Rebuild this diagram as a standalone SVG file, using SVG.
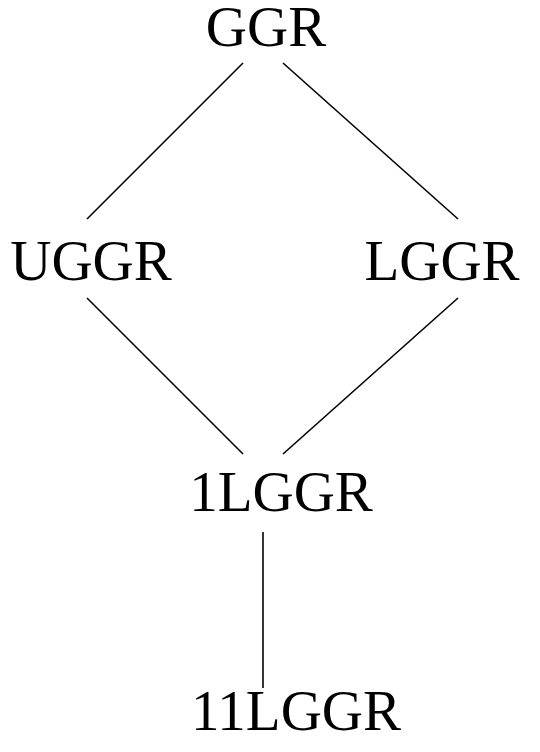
<svg xmlns="http://www.w3.org/2000/svg" width="540" height="752" viewBox="0 0 540 752">
<style>
.t{font-family:"Liberation Serif","Times New Roman",serif;font-size:57px;fill:#000}
.c line{stroke:#000;stroke-width:1.6}
</style>
<rect width="540" height="752" fill="#fff"/>
<g class="c" id="connectors">
<line x1="243" y1="63" x2="87" y2="219"/>
<line x1="283" y1="63" x2="458" y2="219"/>
<line x1="87" y1="298" x2="243" y2="454"/>
<line x1="458" y1="298" x2="283" y2="454"/>
<line x1="263" y1="532" x2="263" y2="688"/>
</g>
<g id="GGR"><text class="t" x="266" y="46" text-anchor="middle">GGR</text></g>
<g id="UGGR"><text class="t" x="91" y="280" text-anchor="middle">UGGR</text></g>
<g id="LGGR"><text class="t" x="442" y="280" text-anchor="middle">LGGR</text></g>
<g id="1LGGR"><text class="t" x="281" y="511" text-anchor="middle">1LGGR</text></g>
<g id="11LGGR"><text class="t" x="296" y="730" text-anchor="middle">11LGGR</text></g>
</svg>
